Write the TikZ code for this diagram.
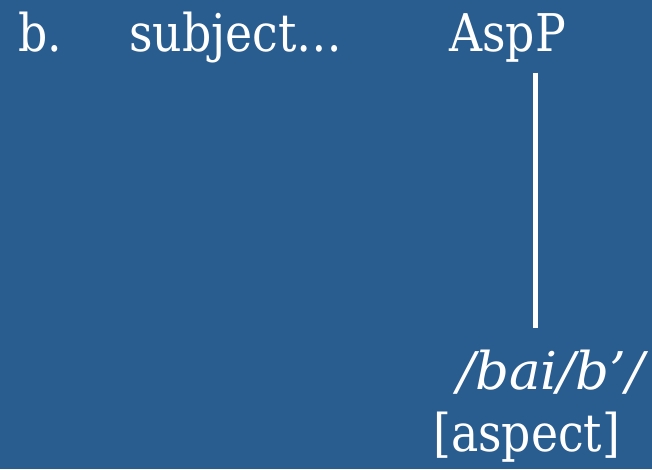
\documentclass[tikz,border=0pt]{standalone}
\usepackage{fontspec}
\setmainfont{DejaVu Serif}[FakeStretch=0.88]
\newfontfamily\formfont{DejaVu Serif}[FakeStretch=1.02]
\definecolor{slideblue}{RGB}{41,93,144}
\begin{document}
\begin{tikzpicture}[x=1pt,y=-1pt,
  lbl/.style={text=white,inner sep=0pt,anchor=base west,font=\fontsize{52}{60}\selectfont},
  branch/.style={draw=white,line width=5pt}]
  \fill[slideblue] (0,0) rectangle (652,469);
  \useasboundingbox (0,0) rectangle (652,469);
  % top row: example letter, subject, aspect phrase
  \node[lbl] (ex) at (18,51.5) {b.};
  \node[lbl] (subj) at (129,51.5) {subject…};
  \node[lbl] (asp) at (449,51.5) {AspP};
  % branch from AspP down to its head
  \coordinate (ltop) at (535.5,72.5);
  \coordinate (lbot) at (535.5,327.5);
  \draw[branch] (ltop) -- (lbot);
  % head: form and gloss
  \node[lbl,font=\fontsize{52}{60}\formfont\itshape] (form) at (457,389.5) {/bai/b’/};
  \node[lbl] (gloss) at (433,451.5) {[aspect]};
\end{tikzpicture}
\end{document}
